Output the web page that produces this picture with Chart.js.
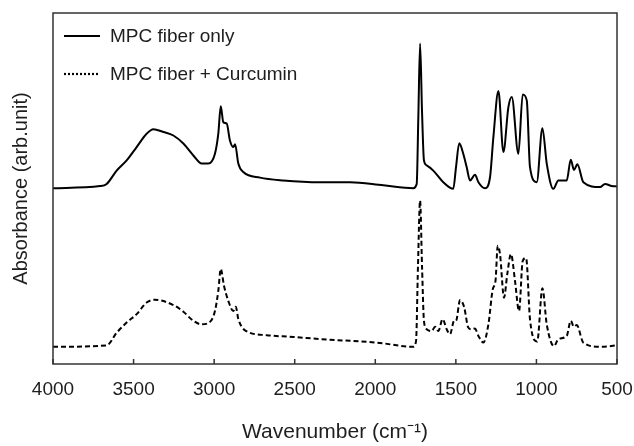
<!DOCTYPE html>
<html>
<head>
<meta charset="utf-8">
<script src="https://cdn.jsdelivr.net/npm/chart.js@4/dist/chart.umd.min.js"></script>
<style>
    html, body { margin: 0; padding: 0; background: #fff; }
    .chart-container { width: 634px; height: 446px; }
</style>
</head>
<body>
<div class="chart-container"><canvas id="chart"></canvas></div>
<script>
const seriesNames = ['MPC fiber only', 'MPC fiber + Curcumin'];
const xTicks = [4000, 3500, 3000, 2500, 2000, 1500, 1000, 500];

// MPC fiber only (upper trace)
const waveFiber = [4000, 3708, 3667, 3605, 3543, 3481, 3419, 3377, 3315, 3253, 3191, 3129, 3077, 3036,
    2995, 2974, 2959, 2943, 2922, 2902, 2881, 2870, 2850, 2819, 2715, 2571, 2343, 2157, 1950, 1764,
    1743, 1733, 1722, 1710, 1698, 1681, 1640, 1578, 1516, 1499, 1479, 1454, 1433, 1412, 1381, 1360,
    1319, 1288, 1267, 1236, 1205, 1174, 1153, 1112, 1085, 1060, 1040, 998, 963, 936, 895, 864, 812,
    787, 767, 746, 709, 605, 574, 533, 500];
const absFiber = [50.1, 50.7, 51.3, 55.1, 58.0, 61.8, 65.6, 66.9, 66.1, 65.1, 62.8, 59.4, 57.1, 57.1,
    59.9, 65.7, 73.4, 68.9, 68.5, 63.7, 61.8, 62.6, 57.1, 54.7, 53.1, 52.3, 51.8, 51.8, 50.9, 50.1,
    51.3, 70.0, 91.3, 72.0, 58.0, 56.6, 55.1, 51.8, 49.9, 56.1, 62.9, 59.9, 56.1, 52.3, 53.9, 51.8,
    50.1, 53.2, 64.7, 77.8, 60.4, 73.2, 76.1, 59.9, 76.8, 75.1, 56.1, 51.8, 67.2, 57.1, 49.9, 52.3, 52.3,
    58.2, 55.3, 56.9, 51.8, 50.4, 51.3, 50.7, 50.6];

// MPC fiber + Curcumin (lower trace)
const waveCurcumin = [4000, 3667, 3605, 3543, 3481, 3419, 3371, 3253, 3191, 3129, 3077, 3026, 2995,
    2974, 2959, 2939, 2912, 2881, 2866, 2850, 2808, 2674, 2509, 2343, 1991, 1764, 1747, 1735, 1722,
    1710, 1698, 1681, 1650, 1629, 1609, 1582, 1557, 1536, 1511, 1499, 1474, 1449, 1423, 1402, 1381,
    1360, 1329, 1298, 1271, 1254, 1240, 1226, 1201, 1181, 1158, 1133, 1108, 1085, 1064, 1040, 995,
    963, 936, 891, 864, 812, 787, 767, 750, 709, 605, 500];
const absCurcumin = [4.9, 5.3, 8.9, 11.8, 14.2, 17.5, 18.3, 16.8, 14.9, 12.3, 11.3, 12.0, 15.1,
    20.9, 27.1, 22.3, 18.0, 15.1, 16.3, 12.8, 9.6, 8.2, 7.7, 7.1, 6.1, 4.9, 6.6, 28.0, 46.6,
    28.0, 12.3, 9.9, 9.4, 10.6, 9.4, 12.8, 9.9, 8.5, 12.3, 12.3, 18.2, 16.3, 10.4, 9.9, 10.1,
    8.0, 6.1, 11.3, 21.3, 23.7, 33.7, 31.3, 18.9, 25.6, 31.3, 23.7, 15.1, 29.4, 30.2, 12.8, 6.4,
    21.6, 11.3, 5.1, 7.1, 8.0, 12.3, 10.6, 11.1, 6.1, 4.9, 5.3];

const toPoints = (xs, ys) => xs.map((x, i) => ({ x: x, y: ys[i] }));

const fontFamily = '"Liberation Sans", Arial, sans-serif';
const textColor = '#1e1e1e';

// frame around the plot and inward x tick marks
const framePlugin = {
    id: 'frame',
    afterDraw: (chart) => {
        const ctx = chart.ctx;
        const area = chart.chartArea;
        const xScale = chart.scales.x;
        ctx.save();
        ctx.strokeStyle = '#333';
        ctx.lineWidth = 1.5;
        ctx.strokeRect(area.left, area.top, area.right - area.left, area.bottom - area.top);
        ctx.beginPath();
        xTicks.forEach((value) => {
            const px = xScale.getPixelForValue(value);
            ctx.moveTo(px, area.bottom);
            ctx.lineTo(px, area.bottom - 5);
        });
        ctx.stroke();
        ctx.restore();
    }
};

// legend drawn inside the plot, top left
const legendPlugin = {
    id: 'insideLegend',
    afterDraw: (chart) => {
        const ctx = chart.ctx;
        const area = chart.chartArea;
        const dashes = [[], [2, 2]];
        ctx.save();
        ctx.font = '19px ' + fontFamily;
        ctx.fillStyle = textColor;
        ctx.textBaseline = 'middle';
        seriesNames.forEach((name, i) => {
            const y = area.top + 23 + i * 38;
            ctx.beginPath();
            ctx.setLineDash(dashes[i]);
            ctx.lineWidth = 2.2;
            ctx.strokeStyle = '#000';
            ctx.moveTo(area.left + 11, y);
            ctx.lineTo(area.left + 47, y);
            ctx.stroke();
            ctx.fillText(name, area.left + 57, y + 1);
        });
        ctx.restore();
    }
};

new Chart(document.getElementById('chart'), {
    type: 'line',
    data: {
        datasets: [{
            label: seriesNames[0],
            data: toPoints(waveFiber, absFiber),
            borderColor: '#000',
            borderWidth: 2,
            pointRadius: 0,
            cubicInterpolationMode: 'monotone'
        }, {
            label: seriesNames[1],
            data: toPoints(waveCurcumin, absCurcumin),
            borderColor: '#000',
            borderWidth: 2,
            borderDash: [5, 3],
            pointRadius: 0,
            cubicInterpolationMode: 'monotone'
        }]
    },
    options: {
        animation: false,
        responsive: true,
        maintainAspectRatio: false,
        layout: { padding: { left: 0, right: 17, top: 13, bottom: 0 } },
        plugins: {
            legend: { display: false },
            tooltip: { enabled: false }
        },
        scales: {
            x: {
                type: 'linear',
                reverse: true,
                min: 500,
                max: 4000,
                afterBuildTicks: (scale) => {
                    scale.ticks = xTicks.map((v) => ({ value: v }));
                },
                afterFit: (scale) => {
                    scale.paddingLeft = 0;
                    scale.paddingRight = 0;
                },
                grid: { display: false, drawTicks: false },
                border: { display: false },
                ticks: {
                    padding: 14,
                    color: textColor,
                    font: { family: fontFamily, size: 19 },
                    callback: (value) => String(value)
                },
                title: {
                    display: true,
                    text: 'Wavenumber (cm\u207B\u00B9)',
                    color: textColor,
                    padding: { top: 5, bottom: 1 },
                    font: { family: fontFamily, size: 21 }
                }
            },
            y: {
                min: 0,
                max: 100,
                grid: { display: false, drawTicks: false },
                border: { display: false },
                ticks: { display: false },
                title: {
                    display: true,
                    text: 'Absorbance (arb.unit)',
                    color: textColor,
                    padding: { top: 9, bottom: 20 },
                    font: { family: fontFamily, size: 20 }
                }
            }
        }
    },
    plugins: [framePlugin, legendPlugin]
});
</script>
</body>
</html>
